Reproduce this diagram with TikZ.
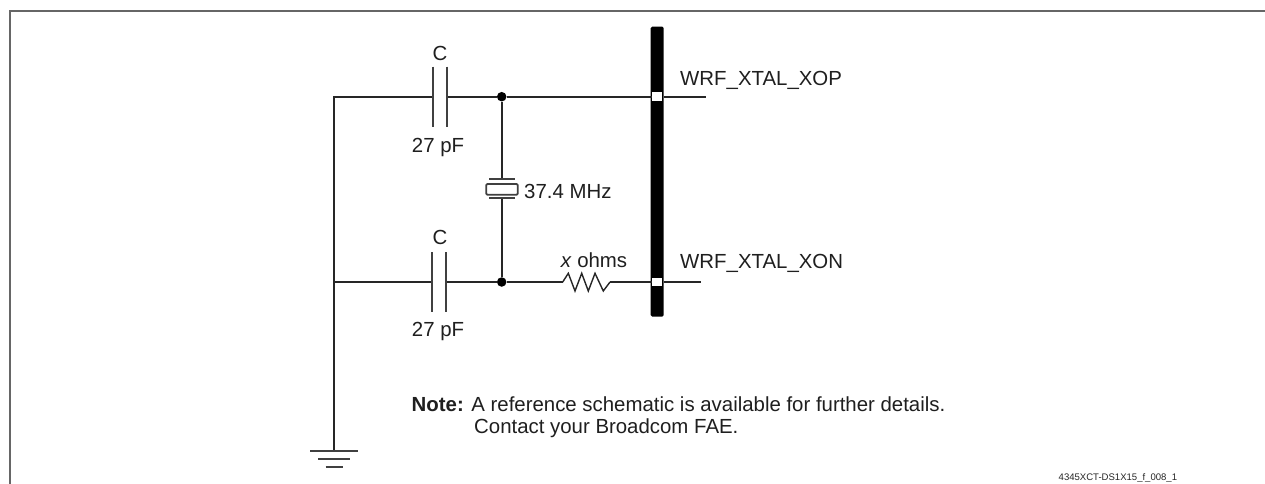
\documentclass[tikz,border=0pt]{standalone}
\usepackage{fontspec}
\setmainfont{Liberation Sans}
\begin{document}
\begin{tikzpicture}[x=1pt,y=-1pt,
  wire/.style={line width=1.7pt,draw=black!85},
  plate/.style={line width=1.8pt,draw=black!75},
  frameline/.style={line width=2pt,draw=black!60},
  lbl/.style={inner sep=0pt,font=\fontsize{20.4}{24}\selectfont,text=black!88},
  lbll/.style={lbl,anchor=west},
  dotnode/.style={circle,fill=black,inner sep=0pt,minimum size=9.5pt},
  pin/.style={rectangle,fill=white,inner sep=0pt,minimum width=9.5pt,minimum height=8.5pt},
  busbar/.style={rectangle,rounded corners=1.5pt,fill=black,inner sep=0pt,minimum width=13pt,minimum height=290pt}]
\useasboundingbox (0,0) rectangle (1265,484);
\fill[white] (0,0) rectangle (1265,484);
% frame
\coordinate (fa) at (10,484); \coordinate (fb) at (10,11); \coordinate (fc) at (1265,11);
\draw[frameline] (fa) -- (fb) -- (fc);
% bus
\node[busbar] (bus) at (657.2,171.7) {};
% junctions and coordinates
\coordinate (corner) at (334,96.7);
\coordinate (lowtap) at (334,282);
\coordinate (gnd) at (334,451.3);
\node[dotnode] (j1) at (501.7,96.7) {};
\node[dotnode] (j2) at (501.7,282) {};
\coordinate (c1a) at (433,96.7); \coordinate (c1b) at (447.3,96.7);
\coordinate (c2a) at (432,282); \coordinate (c2b) at (446,282);
\coordinate (xt) at (501.7,179.3); \coordinate (xb) at (501.7,198);
\coordinate (r1) at (562.7,282); \coordinate (r2) at (610,282);
\coordinate (e1) at (705.7,96.7); \coordinate (e2) at (700.7,282);
\node[pin] (p1) at (656.8,96.7) {};
\node[pin] (p2) at (656.8,282) {};
% wires
\draw[wire] (gnd) -- (corner) -- (c1a);
\draw[wire] (c1b) -- (j1) -- (p1.west);
\draw[wire] (bus.east |- p1) -- (e1);
\draw[wire] (lowtap) -- (c2a);
\draw[wire] (c2b) -- (j2) -- (r1);
\draw[wire] (r2) -- (p2.west);
\draw[wire] (bus.east |- p2) -- (e2);
\draw[wire] (j1) -- (xt);
\draw[wire] (xb) -- (j2);
% capacitors
\draw[plate] (433,66.7) -- (433,126.7);
\draw[plate] (447.3,66.7) -- (447.3,126.7);
\draw[plate] (432,252) -- (432,311.7);
\draw[plate] (446,252) -- (446,311.7);
% crystal
\draw[plate] (489,179.3) -- (515,179.3);
\draw[plate] (489,198) -- (515,198);
\draw[plate,rounded corners=1pt] (486.3,184) rectangle (517.7,194.7);
% resistor
\draw[line width=1.4pt,draw=black!85,line join=miter] (r1) -- (568.3,273.3) -- (575,291) -- (581.7,273.3) -- (588.3,291) -- (595,273.3) -- (603.3,291) -- (r2);
% ground
\draw[plate] (310,451.3) -- (357.7,451.3);
\draw[plate] (318,459.3) -- (350,459.3);
\draw[plate] (325.7,467.3) -- (342.7,467.3);
% labels
\node[lbl] (cl1) at (440,53) {C};
\node[lbl] (pf1) at (438,147.5) {27 pF};
\node[lbll] (freq) at (524,191) {37.4 MHz};
\node[lbl] (cl2) at (440,237.5) {C};
\node[lbl] (pf2) at (438,331) {27 pF};
\node[lbl] (ohm) at (594,260.5) {\textit{x} ohms};
\node[lbll] (xop) at (680,80) {WRF\_XTAL\_XOP};
\node[lbll] (xon) at (680,263) {WRF\_XTAL\_XON};
\node[lbll] (note) at (411.5,404) {\textbf{Note:} A reference schematic is available for further details.};
\node[lbll] (contact) at (474,428) {Contact your Broadcom FAE.};
\node[inner sep=0pt,anchor=west,font=\fontsize{9.55}{11}\selectfont,text=black!85] (fig) at (1058.5,478) {4345XCT-DS1X15\_f\_008\_1};
\end{tikzpicture}
\end{document}
